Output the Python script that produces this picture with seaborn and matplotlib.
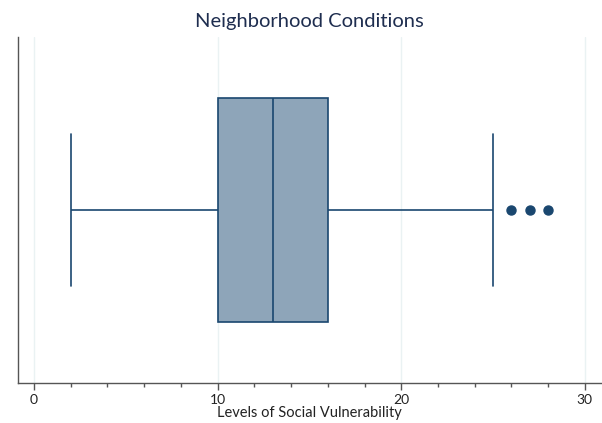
import numpy as np
import pandas as pd
import seaborn as sns
import matplotlib.pyplot as plt
from matplotlib.ticker import MultipleLocator

# Social vulnerability scores for the neighborhoods
vulnerability = [2, 4, 6, 8, 9, 10, 11, 11, 12, 12, 13, 14, 14, 15, 15, 16, 19, 25, 26, 27, 28]
major_ticks = [0, 10, 20, 30]
tick_labels = ["0", "10", "20", "30"]

navy = "#1a476f"
fill = "#8ea5b9"
grid_col = "#eaf2f3"
axis_col = "#555555"

sns.set_theme(style="white")
plt.rcParams["font.family"] = ["Lato", "DejaVu Sans"]

df = pd.DataFrame({"score": vulnerability})

fig = plt.figure(figsize=(6.02, 4.23), dpi=100)
ax = fig.add_axes([0.030, 0.0946, 0.968, 0.818])

for t in major_ticks:
    ax.axvline(t, color=grid_col, lw=1.0, zorder=0)

sns.boxplot(
    data=df, x="score", orient="h", ax=ax, width=0.65,
    color=fill, linecolor=navy, linewidth=1.2, whis=1.5,
    flierprops=dict(marker="o", markerfacecolor=navy, markeredgecolor=navy,
                    markersize=6.5),
    boxprops=dict(facecolor=fill, edgecolor=navy),
    capwidths=0.44,
)

ax.set_xlim(-0.87, 30.87)
ax.set_ylim(0.5, -0.5)
ax.set_xticks(major_ticks)
ax.set_xticklabels(tick_labels, fontsize=10, color="#222222")
ax.xaxis.set_minor_locator(MultipleLocator(2))
ax.tick_params(axis="x", which="major", length=5, width=1, color=axis_col, pad=3, bottom=True)
ax.tick_params(axis="x", which="minor", length=3, width=1, color=axis_col, bottom=True)
ax.set_yticks([])
ax.set_ylabel("")
ax.set_xlabel("Levels of Social Vulnerability", fontsize=10.5, color="#222222", labelpad=0)
ax.set_title("Neighborhood Conditions", fontsize=14.5, color="#1e2d4f", pad=7)

for side in ["top", "right"]:
    ax.spines[side].set_visible(False)
for side in ["left", "bottom"]:
    ax.spines[side].set_color(axis_col)
    ax.spines[side].set_linewidth(1.0)

fig.savefig("out.png", dpi=100)
